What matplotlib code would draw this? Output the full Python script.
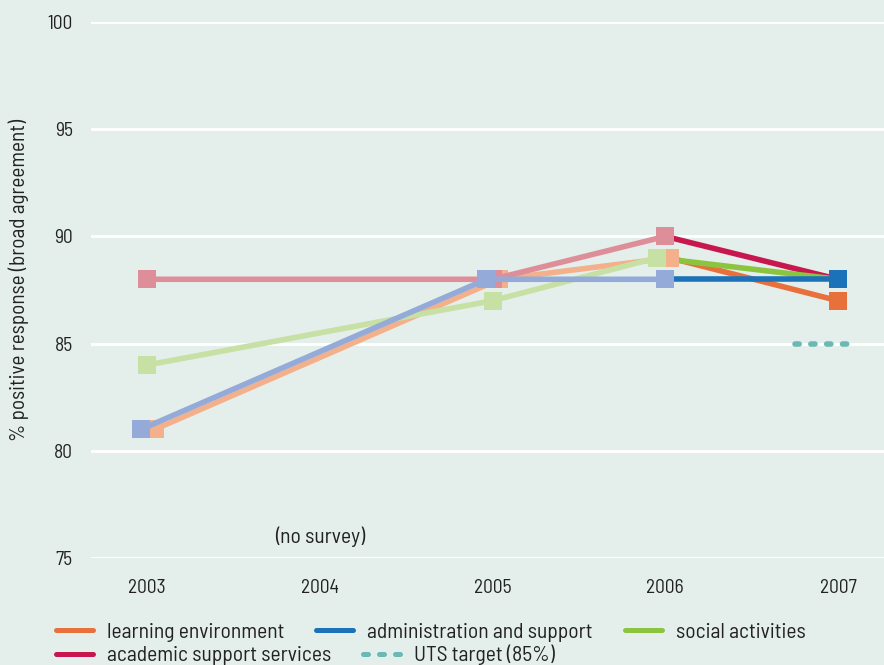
import numpy as np
import matplotlib
matplotlib.use("Agg")
import matplotlib.pyplot as plt
from matplotlib.lines import Line2D

plt.rcParams['font.family'] = ['Barlow Semi Condensed', 'Roboto', 'DejaVu Sans']

# datos
years = [2003, 2004, 2005, 2006, 2007]
learning = [81, np.nan, 88, 89, 87]
admin = [81, np.nan, 88, 88, 88]
social = [84, np.nan, 87, 89, 88]
academic = [88, np.nan, 88, 90, 88]
target = 85
labels = ["learning environment", "administration and support", "social activities",
          "academic support services", "UTS target (85%)"]

# estilo: (valores, color fuerte, color palido, desplazamiento x para evitar solapes)
series = [
    (learning, "#e8703a", "#f3b08b", [0.045, 0, 0.04, 0.025, 0]),
    (academic, "#c8174f", "#de8e98", [0, 0, 0, 0, 0]),
    (social, "#8bc540", "#c7e0a4", [0, 0, 0, -0.05, 0]),
    (admin, "#1b72b9", "#94abd9", [-0.035, 0, -0.035, 0, 0]),
]
teal = "#6cb8b4"
bg = "#e4efec"
ink = "#222222"

fig = plt.figure(figsize=(8.84, 6.65), dpi=100, facecolor=bg)
ax = fig.add_axes([91 / 884, 1 - 558 / 665, 1 - 91 / 884, (558 - 22) / 665])
ax.set_facecolor(bg)

lw = 4.0
ms = 12.3
for i, (vals, strong, pale, nudge) in enumerate(series):
    x = np.array(years, dtype=float) + np.array(nudge)
    y = np.array(vals, dtype=float)
    ok = ~np.isnan(y)
    # tramo palido 2003-2006
    xp, yp = x[:4][ok[:4]], y[:4][ok[:4]]
    ax.plot(xp, yp, color=pale, lw=lw, marker="s", ms=ms, mew=0, zorder=3 + i * 0.1,
            solid_capstyle="butt", clip_on=False)
    # tramo fuerte 2006-2007
    ax.plot(x[3:], y[3:], color=strong, lw=lw, zorder=2 + i * 0.1, clip_on=False)
    ax.plot(x[4:], y[4:], color=strong, lw=0, marker="s", ms=ms, mew=0,
            zorder=4 + i * 0.1, clip_on=False)

# objetivo UTS
ax.plot([years[-1] - 0.25, years[-1] + 0.09], [target, target], color=teal, lw=lw,
        linestyle=(0, (0.75, 2.1)), dash_capstyle="round", zorder=2)

ax.text(2004, 76, "(no survey)", ha="center", va="center", fontsize=15.5, color=ink)

ax.set_xlim(2003 - 0.324, 2007 + 0.266)
ax.set_ylim(75, 100)
ax.set_yticks([75, 80, 85, 90, 95, 100])
ax.set_xticks(years)
ax.grid(axis="y", color="white", lw=2)
ax.set_axisbelow(True)
for s in ax.spines.values():
    s.set_visible(False)
ax.tick_params(length=0, labelsize=14, colors=ink)
ax.tick_params(axis="y", pad=13)
ax.tick_params(axis="x", pad=15)
fig.text(19 / 884, 1 - 280 / 665, "% positive response (broad agreement)", rotation=90,
         ha="center", va="center", fontsize=15.2, color=ink)

colors = [series[0][1], series[3][1], series[2][1], series[1][1]]
h = [Line2D([], [], color=c, lw=3.6, solid_capstyle="round") for c in colors]
h.append(Line2D([], [], color=teal, lw=3.6, linestyle=(0, (1.0, 2.2)), dash_capstyle="round"))

kw = dict(frameon=False, fontsize=15.5, handlelength=1.72, handletextpad=0.65,
          columnspacing=1.49, borderpad=0, borderaxespad=0, loc="center left",
          labelcolor=ink)
leg1 = fig.legend(h[:3], labels[:3], ncol=3, bbox_to_anchor=(56 / 884, 1 - 632 / 665), **kw)
leg2 = fig.legend([h[3], h[4]], [labels[3], labels[4]], ncol=2,
                  bbox_to_anchor=(56 / 884, 1 - 655 / 665), **kw)

fig.savefig("out.png", dpi=100, facecolor=bg)
